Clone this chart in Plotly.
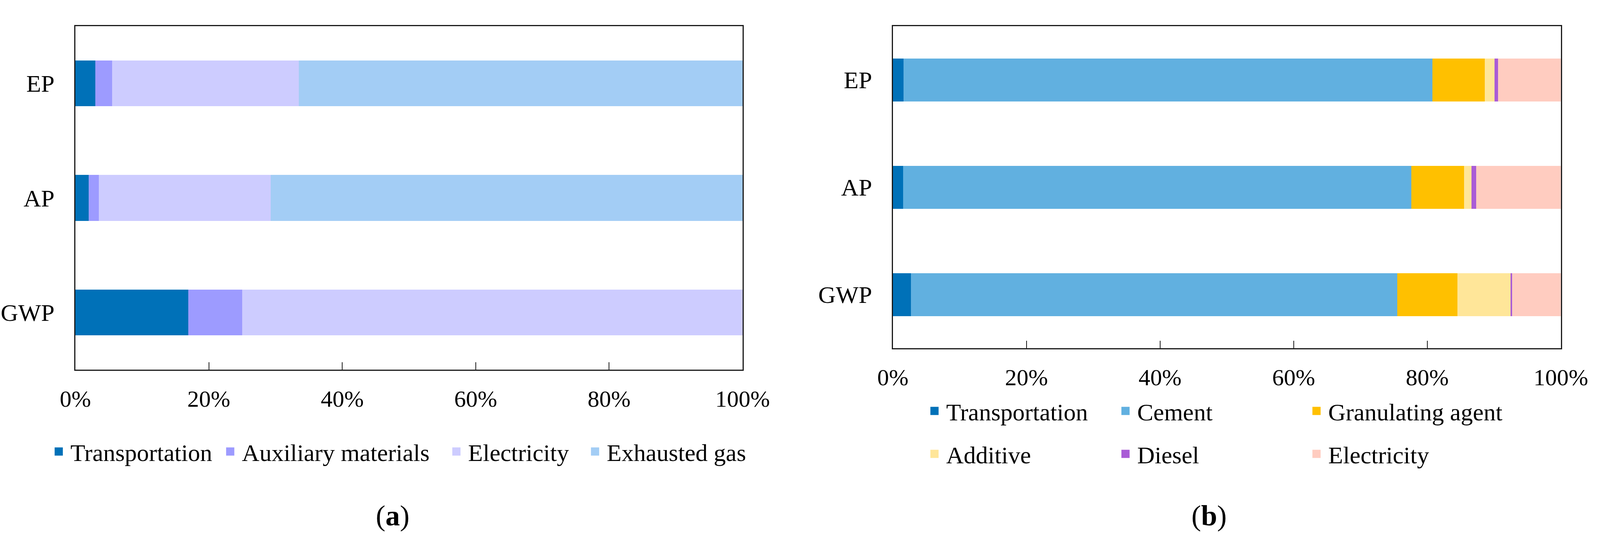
import plotly.graph_objects as go

W, H = 4288, 1386

# ---------------- data ----------------
categories = ["GWP", "AP", "EP"]          # bottom -> top
x_ticks = [0, 20, 40, 60, 80, 100]
x_tick_labels = ["0%", "20%", "40%", "60%", "80%", "100%"]

# panel (a)
a_names = ["Transportation", "Auxiliary materials", "Electricity", "Exhausted gas"]
a_transportation = [16.9, 2.0, 3.0]
a_auxiliary = [8.1, 1.5, 2.5]
a_electricity = [75.0, 25.8, 28.0]
a_exhausted_gas = [0.0, 70.7, 66.5]
a_values = [a_transportation, a_auxiliary, a_electricity, a_exhausted_gas]

# panel (b)
b_names = ["Transportation", "Cement", "Granulating agent", "Additive", "Diesel", "Electricity"]
b_transportation = [2.7, 1.5, 1.6]
b_cement = [72.8, 76.1, 79.2]
b_granulating = [9.0, 7.9, 7.8]
b_additive = [8.0, 1.1, 1.5]
b_diesel = [0.2, 0.7, 0.5]
b_electricity = [7.3, 12.7, 9.4]
b_values = [b_transportation, b_cement, b_granulating, b_additive, b_diesel, b_electricity]

panel_labels = ["(<b>a</b>)", "(<b>b</b>)"]

# ---------------- style ----------------
a_colors = ["#0071B8", "#9D9BFF", "#CDCCFF", "#A3CDF5"]
b_colors = ["#0071B8", "#61B0E0", "#FFC000", "#FFE699", "#A95CD6", "#FFCCC0"]
a_legend_widths = [374, 514, 290, 400]
b_legend_widths = [424, 424, 500, 424, 424, 500]
FONT = "Liberation Serif, Times New Roman, serif"

fig = go.Figure()

def add_panel(names, values, colors, xa, ya, legends, widths):
    for i, (name, vals, col) in enumerate(zip(names, values, colors)):
        fig.add_trace(go.Bar(
            y=categories, x=vals, orientation="h", name=name,
            marker=dict(color=col, line=dict(width=0)), width=0.4,
            xaxis=xa, yaxis=ya, showlegend=False, legendgroup=f"{xa}{i}",
        ))
        # legend entry (bigger square symbol)
        fig.add_trace(go.Scatter(
            x=[None], y=[None], mode="markers", name=name,
            marker=dict(symbol="square", size=16, color=col, line=dict(width=5, color=col)),
            xaxis=xa, yaxis=ya, legend=legends[i], legendgroup=f"{xa}{i}",
            hoverinfo="skip", legendwidth=widths[i],
        ))

add_panel(a_names, a_values, a_colors, "x", "y", ["legend"] * 4, a_legend_widths)
add_panel(b_names, b_values, b_colors, "x2", "y2",
          ["legend2"] * 3 + ["legend3"] * 3, b_legend_widths)

axis_line = dict(showline=True, linecolor="#1a1a1a", linewidth=3, mirror=True,
                 showgrid=False, zeroline=False)

xcommon = dict(range=[0, 100], tickvals=x_ticks, ticktext=x_tick_labels,
               ticks="inside", ticklen=19, tickwidth=2, tickcolor="#1a1a1a",
               tickfont=dict(size=60, color="black", family=FONT),
               ticklabelstandoff=20, automargin=False, fixedrange=True, **axis_line)
ycommon = dict(type="category", categoryorder="array", categoryarray=categories,
               range=[-0.5, 2.5], ticks="", tickfont=dict(size=62, color="black", family=FONT),
               ticklabelstandoff=38, automargin=False, fixedrange=True, **axis_line)

legend_common = dict(orientation="h", xanchor="left", yanchor="middle", itemwidth=50,
                     font=dict(size=62, family=FONT, color="black"),
                     bgcolor="rgba(0,0,0,0)", itemclick=False, itemdoubleclick=False)

fig.update_layout(
    autosize=True,
    margin=dict(l=0, r=0, t=0, b=0, pad=0),
    paper_bgcolor="white", plot_bgcolor="white",
    barmode="stack",
    font=dict(family=FONT, color="black"),
    xaxis=dict(domain=[202 / W, 1990 / W], anchor="y", **xcommon),
    yaxis=dict(domain=[1 - 947 / H, 1 - 67 / H], anchor="x", **ycommon),
    xaxis2=dict(domain=[2393 / W, 4183 / W], anchor="y2", **xcommon),
    yaxis2=dict(domain=[1 - 892 / H, 1 - 67 / H], anchor="x2", **ycommon),
    legend=dict(x=126 / W, y=1 - 1157 / H, **legend_common),
    legend2=dict(x=2473 / W, y=1 - 1053 / H, **legend_common),
    legend3=dict(x=2473 / W, y=1 - 1163 / H, **legend_common),
    annotations=[
        dict(text=panel_labels[0], x=1052 / W, y=1 - 1321 / H, xref="paper", yref="paper",
             showarrow=False, font=dict(size=74, family=FONT, color="black"),
             xanchor="center", yanchor="middle"),
        dict(text=panel_labels[1], x=3240 / W, y=1 - 1321 / H, xref="paper", yref="paper",
             showarrow=False, font=dict(size=74, family=FONT, color="black"),
             xanchor="center", yanchor="middle"),
    ],
)

post = ("document.body.style.margin='0';document.body.style.overflow='hidden';"
        "Plotly.Plots.resize(document.getElementById('{plot_id}'));")

fig.write_html("out.html", default_width="100vw", default_height="100vh",
               config={"displayModeBar": False}, post_script=post)
